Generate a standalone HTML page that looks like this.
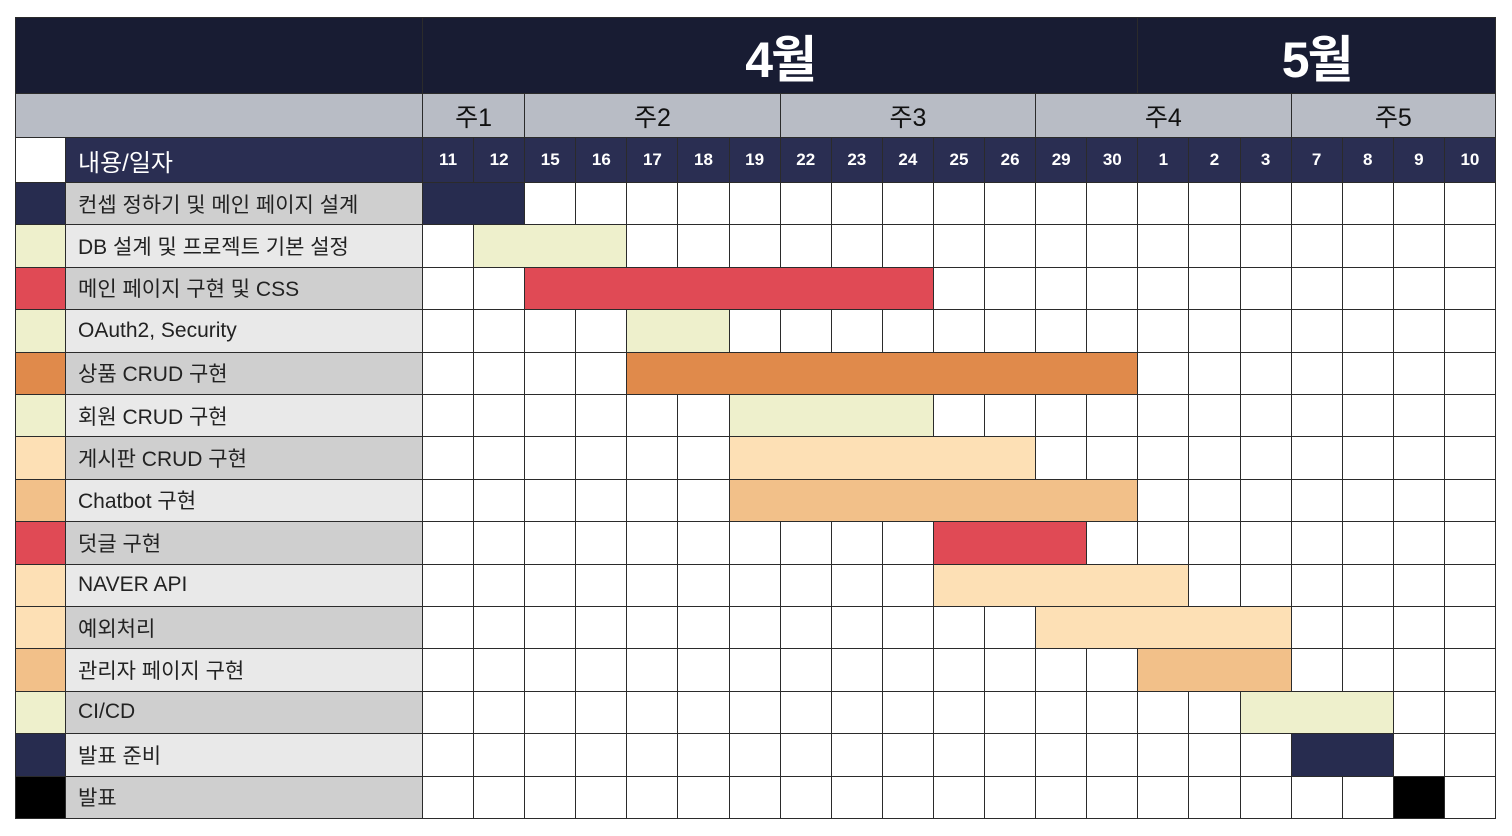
<!DOCTYPE html>
<html><head><meta charset="utf-8">
<style>
body{margin:0;width:1512px;height:836px;background:#fff;position:relative;overflow:hidden;font-family:"Liberation Sans","Noto Sans CJK KR",sans-serif}
.a{position:absolute;box-sizing:border-box}
</style></head>
<body>
<div id="root"></div>
<script>
const days=["11","12","15","16","17","18","19","22","23","24","25","26","29","30","1","2","3","7","8","9","10"];
const months=["4월","5월"];
const monthSpans=[14,7];
const weeks=["주1","주2","주3","주4","주5"];
const weekSpans=[2,5,5,5,4];
const tasks=["컨셉 정하기 및 메인 페이지 설계","DB 설계 및 프로젝트 기본 설정","메인 페이지 구현 및 CSS","OAuth2, Security","상품 CRUD 구현","회원 CRUD 구현","게시판 CRUD 구현","Chatbot 구현","덧글 구현","NAVER API","예외처리","관리자 페이지 구현","CI/CD","발표 준비","발표"];
const startCol=[0,1,2,4,4,6,6,6,10,10,12,14,16,17,19];
const endCol=[1,3,9,5,13,9,11,13,12,14,16,16,18,18,19];
const taskColors=["#272c4f","#eef0cc","#e04a55","#eef0cc","#e08a4b","#eef0cc","#fde0b5","#f2c089","#e04a55","#fde0b5","#fde0b5","#f2c089","#eef0cc","#272c4f","#000000"];

const root=document.getElementById('root');
const X0=15,XL=65,XG=422,XR=1495,Y0=17,Y1=93,Y2=137,Y3=182,YB=818;
const cw=(XR-XG)/days.length, rh=(YB-Y3)/tasks.length;
const xc=i=>XG+i*cw, yr=i=>Y3+i*rh;
function box(x,y,w,h,bg,name,txt,css){
  const d=document.createElement('div');d.className='a';
  d.style.cssText=`left:${x}px;top:${y}px;width:${w}px;height:${h}px;background:${bg};border:1px solid #2b2b2b;${css||''}`;
  if(txt!==undefined)d.textContent=txt;
  root.appendChild(d);return d;
}
let el;
el=box(X0,Y0,XG-X0+1,Y1-Y0+1,'#181c33');


let c=0;
months.forEach((m,i)=>{
  el=box(xc(c),Y0,monthSpans[i]*cw+1,Y1-Y0+1,'#181c33',null,m,'color:#fff;font-weight:bold;font-size:50px;display:flex;align-items:center;justify-content:center;letter-spacing:-2px');
  
  
  c+=monthSpans[i];
});
el=box(X0,Y1,XG-X0+1,Y2-Y1+1,'#b8bcc5');


c=0;
weeks.forEach((w,i)=>{
  el=box(xc(c),Y1,weekSpans[i]*cw+1,Y2-Y1+1,'#b8bcc5',null,w,'color:#111;font-size:25px;display:flex;align-items:center;justify-content:center');
  
  
  c+=weekSpans[i];
});
el=box(X0,Y2,XL-X0+1,Y3-Y2+1,'#fff');


el=box(XL,Y2,XG-XL+1,Y3-Y2+1,'#2a2e52',null,'내용/일자','color:#fff;font-size:24px;display:flex;align-items:center;padding-left:12px');


days.forEach((d,i)=>{
  el=box(xc(i),Y2,cw+1,Y3-Y2+1,'#2a2e52',null,d,'color:#fff;font-size:17px;font-weight:bold;display:flex;align-items:center;justify-content:center');
  
  
});
tasks.forEach((t,r)=>{
  el=box(X0,yr(r),XL-X0+1,rh+1,taskColors[r]);
  
  
  el=box(XL,yr(r),XG-XL+1,rh+1,r%2?'#e9e9e9':'#cfcfcf',null,t,'color:#222;font-size:21px;display:flex;align-items:center;padding-left:12px');
  
  
  days.forEach((d,i)=>{
    el=box(xc(i),yr(r),cw+1,rh+1,'#fff');
    
    
  });
});
tasks.forEach((t,r)=>{
  el=box(xc(startCol[r]),yr(r),(endCol[r]-startCol[r]+1)*cw+1,rh+1,taskColors[r]);
  
  
});
</script>
</body></html>
